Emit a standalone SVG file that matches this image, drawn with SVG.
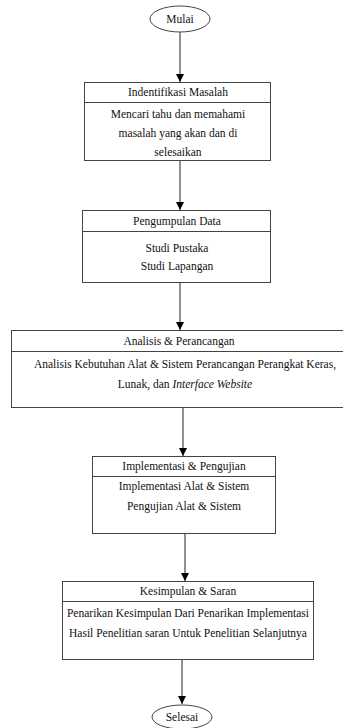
<svg xmlns="http://www.w3.org/2000/svg" width="343" height="728" viewBox="0 0 343 728">
<style>
.box{fill:#fff;stroke:#444;stroke-width:1}
.div{stroke:#444;stroke-width:1}
.t{font-family:"Liberation Serif","Times New Roman",serif;font-size:11.5px;fill:#111;text-anchor:middle}
.c{stroke:#222;stroke-width:1;fill:none;marker-end:url(#ah)}
</style>
<defs>
<marker id="ah" viewBox="0 0 10 10" refX="10" refY="5" markerWidth="8" markerHeight="8" markerUnits="userSpaceOnUse" orient="auto">
<path d="M0,0 L10,5 L0,10 z" fill="#000"/>
</marker>
</defs>
<rect width="343" height="728" fill="#fff"/>
<g id="connectors">
<line class="c" x1="180" y1="32" x2="180" y2="82"/>
<line class="c" x1="180" y1="160" x2="180" y2="210"/>
<line class="c" x1="180" y1="283" x2="180" y2="330"/>
<line class="c" x1="183" y1="408" x2="183" y2="456"/>
<line class="c" x1="185" y1="533" x2="185" y2="581"/>
<line class="c" x1="182" y1="660" x2="182" y2="704"/>
</g>
<g id="mulai">
<ellipse class="box" cx="180" cy="19" rx="30" ry="13"/>
<text class="t" x="180" y="23">Mulai</text>
</g>
<g id="identifikasi">
<rect class="box" x="84.5" y="82.5" width="186" height="78"/>
<line class="div" x1="84.5" y1="102.5" x2="270.5" y2="102.5"/>
<text class="t" x="178" y="96">Indentifikasi Masalah</text>
<text class="t" x="178" y="118">Mencari tahu dan memahami</text>
<text class="t" x="178" y="137">masalah yang akan dan di</text>
<text class="t" x="178" y="156">selesaikan</text>
</g>
<g id="pengumpulan">
<rect class="box" x="82.5" y="210.5" width="188" height="72"/>
<line class="div" x1="82.5" y1="231.5" x2="270.5" y2="231.5"/>
<text class="t" x="177" y="225">Pengumpulan Data</text>
<text class="t" x="177" y="252">Studi Pustaka</text>
<text class="t" x="177" y="270">Studi Lapangan</text>
</g>
<g id="analisis">
<rect class="box" x="11.5" y="330.5" width="340" height="77"/>
<line class="div" x1="11.5" y1="351.5" x2="343" y2="351.5"/>
<text class="t" x="179" y="345">Analisis &amp; Perancangan</text>
<text class="t" x="185" y="368">Analisis Kebutuhan Alat &amp; Sistem Perancangan Perangkat Keras,</text>
<text class="t" x="185" y="388">Lunak, dan <tspan font-style="italic">Interface Website</tspan></text>
</g>
<g id="implementasi">
<rect class="box" x="92.5" y="456.5" width="183" height="77"/>
<line class="div" x1="92.5" y1="476.5" x2="275.5" y2="476.5"/>
<text class="t" x="184" y="470">Implementasi &amp; Pengujian</text>
<text class="t" x="184" y="490">Implementasi Alat &amp; Sistem</text>
<text class="t" x="184" y="510">Pengujian Alat &amp; Sistem</text>
</g>
<g id="kesimpulan">
<rect class="box" x="62.5" y="581.5" width="251" height="78"/>
<line class="div" x1="62.5" y1="601.5" x2="313.5" y2="601.5"/>
<text class="t" x="188" y="595">Kesimpulan &amp; Saran</text>
<text class="t" x="188" y="617">Penarikan Kesimpulan Dari Penarikan Implementasi</text>
<text class="t" x="188" y="637">Hasil Penelitian saran Untuk Penelitian Selanjutnya</text>
</g>
<g id="selesai">
<ellipse class="box" cx="182" cy="717" rx="30" ry="12"/>
<text class="t" x="182" y="721">Selesai</text>
</g>
</svg>
